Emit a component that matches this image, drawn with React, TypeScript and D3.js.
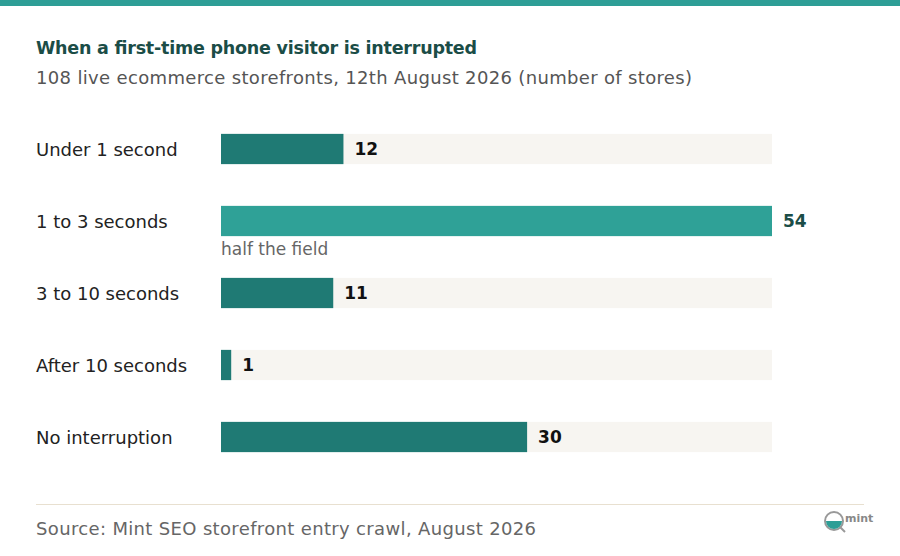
import React from "react";
import * as d3 from "d3";

const categories = ["Under 1 second", "1 to 3 seconds", "3 to 10 seconds", "After 10 seconds", "No interruption"];
const values = [12, 54, 11, 1, 30];
const highlight = "1 to 3 seconds";
const maxValue = 54;

export default function App() {
  const width = 900;
  const height = 556;
  const font = "'DejaVu Sans', sans-serif";

  const x = d3.scaleLinear([0, maxValue], [221, 772]);
  const y = d3.scaleBand(categories, [113, 473]).paddingInner(0.58).paddingOuter(0.29);
  const bh = y.bandwidth();

  return (
    <svg width={width} height={height} style={{ position: "absolute", left: 0, top: 0 }} fontFamily={font}>
      <rect x={0} y={0} width={width} height={556} fill="#fff" />
      <rect x={0} y={0} width={width} height={6} fill="#2E9E96" />
      <text x={36} y={54} fontSize={17.5} fontWeight={700} fill="#1B4D47" textLength={441}>When a first-time phone visitor is interrupted</text>
      <text x={36} y={84} fontSize={18} fill="#555" textLength={656}>108 live ecommerce storefronts, 12th August 2026 (number of stores)</text>
      {categories.map((c, i) => {
        const yy = y(c)!;
        const hl = c === highlight;
        return (
          <g key={c}>
            <text x={36} y={yy + bh / 2} dy="0.38em" fontSize={18} fill="#222">{c}</text>
            <rect x={x(0)} y={yy} width={x(maxValue) - x(0)} height={bh} fill="#F7F5F1" />
            <rect x={x(0)} y={yy} width={x(values[i]) - x(0)} height={bh} fill={hl ? "#2FA197" : "#1F7A74"} />
            <text x={x(values[i]) + 11} y={yy + bh / 2} dy="0.38em" fontSize={17} fontWeight={700} fill={hl ? "#1B4D47" : "#111"}>{values[i]}</text>
            {hl && <text x={x(0)} y={yy + bh + 19} fontSize={17} fill="#666">half the field</text>}
          </g>
        );
      })}
      <line x1={36} x2={864} y1={504.5} y2={504.5} stroke="#E8E0D0" />
      <text x={36} y={535} fontSize={18} fill="#666" textLength={500}>Source: Mint SEO storefront entry crawl, August 2026</text>
      <g>
        <circle cx={834} cy={521} r={9} fill="#fff" stroke="#999" strokeWidth={2} />
        <path d="M826,521 A8,8 0 0 0 842,521 Z" fill="#2E9E96" />
        <line x1={840} y1={527} x2={845} y2={532} stroke="#999" strokeWidth={2} />
        <text x={845} y={522} fontSize={11} fontWeight={700} fill="#888">mint</text>
      </g>
    </svg>
  );
}
